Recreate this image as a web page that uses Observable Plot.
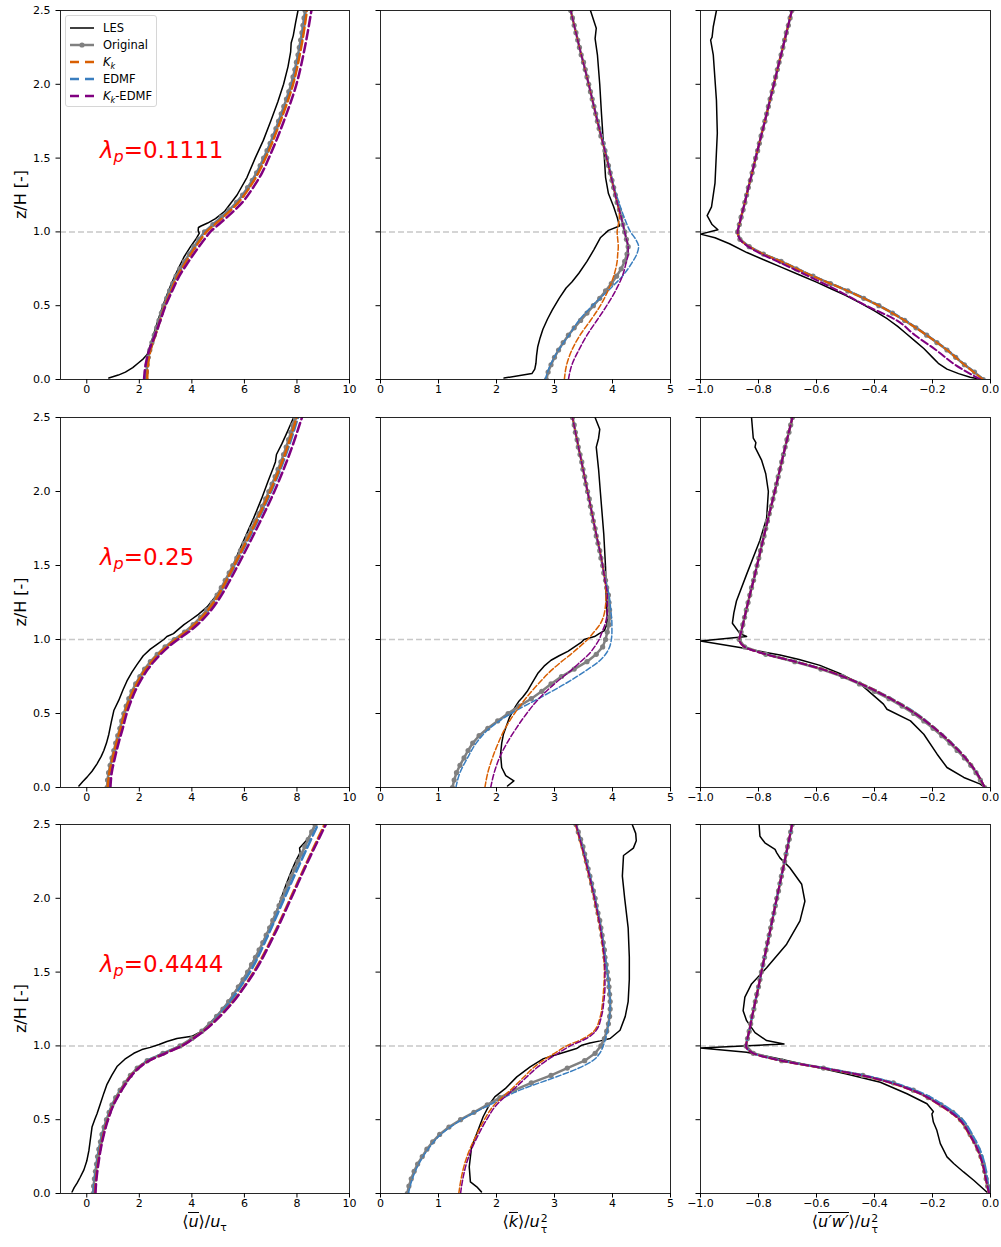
<!DOCTYPE html>
<html><head><meta charset="utf-8">
<script src="https://cdn.jsdelivr.net/npm/d3@7"></script>
<script src="https://cdn.jsdelivr.net/npm/@observablehq/plot@0.6"></script>
<style>
body{margin:0;background:#fff;}
#fig{position:relative;width:1001px;height:1247px;font-family:"DejaVu Sans",sans-serif;color:#000;overflow:hidden;}
#fig svg{position:absolute;overflow:visible;}
.xl{position:absolute;top:1212px;width:240px;text-align:center;font-size:16px;line-height:20px;white-space:nowrap;}
.ov{display:inline-block;border-top:1.3px solid #000;line-height:0.95;padding-top:1px;}
.ss{display:inline-flex;flex-direction:column;vertical-align:0.42em;font-size:0.68em;line-height:1.0;margin-left:1px;}
#legend{position:absolute;left:65px;top:15px;width:92px;height:92px;box-sizing:border-box;border:1px solid #d6d6d6;border-radius:3px;background:rgba(255,255,255,0.85);font-size:11.5px;}
.lg{position:absolute;left:0;height:16px;width:92px;}
.lg svg{position:absolute!important;left:3px;top:3px;}
.lg span{position:absolute;left:37px;top:0;line-height:16px;white-space:nowrap;}
</style></head><body><div id="fig"></div>
<script>
// ---------------- data ----------------
const zFine = [0,0.05,0.1,0.15,0.2,0.25,0.3,0.35,0.4,0.45,0.5,0.55,0.6,0.65,0.7,0.75,0.8,0.85,0.9,0.95,1,1.05,1.1,1.15,1.2,1.25,1.3,1.35,1.4,1.45,1.5,1.55,1.6,1.65,1.7,1.75,1.8,1.85,1.9,1.95,2,2.05,2.1,2.15,2.2,2.25,2.3,2.35,2.4,2.45,2.5];
const zCoarse = [0,0.1,0.2,0.3,0.4,0.5,0.6,0.7,0.8,0.85,0.9,0.95,1,1.05,1.1,1.2,1.3,1.4,1.5,1.75,2,2.25,2.5];
const lambdas = ["0.1111","0.25","0.4444"];
const seriesNames = ["LES","Original","K_k","EDMF","K_k-EDMF"];
const xTicksU = [0,2,4,6,8,10];
const xTicksK = [0,1,2,3,4,5];
const xTicksS = [-1,-0.8,-0.6,-0.4,-0.2,0];
const yTicks = [0,0.5,1,1.5,2,2.5];

// lambda_p = 0.1111
const lesU_A = [[0.84,0.01],[1.2,0.03],[1.47,0.05],[1.75,0.08],[1.95,0.11],[2.15,0.14],[2.3,0.17],[2.45,0.25],[2.62,0.35],[2.80,0.45],[3.0,0.55],[3.22,0.65],[3.48,0.75],[3.7,0.83],[3.95,0.9],[4.15,0.95],[4.28,0.99],[4.24,1.01],[4.25,1.03],[4.35,1.04],[4.6,1.06],[4.9,1.09],[5.25,1.14],[5.72,1.25],[6.1,1.37],[6.41,1.5],[6.72,1.62],[7.0,1.75],[7.27,1.88],[7.49,2.0],[7.66,2.12],[7.76,2.22],[7.78,2.28],[7.86,2.33],[7.95,2.42],[8.04,2.5]];
const origU_A = [2.26,2.27,2.30,2.34,2.40,2.48,2.57,2.66,2.75,2.84,2.93,3.04,3.15,3.27,3.40,3.54,3.72,3.90,4.08,4.27,4.48,4.80,5.12,5.42,5.70,5.93,6.12,6.30,6.46,6.60,6.73,6.86,6.98,7.09,7.20,7.30,7.40,7.50,7.60,7.69,7.78,7.85,7.92,7.98,8.04,8.09,8.14,8.19,8.23,8.27,8.31];
const kkU_A = [2.30,2.33,2.43,2.61,2.79,2.97,3.20,3.45,3.78,3.96,4.14,4.34,4.55,4.87,5.19,5.77,6.19,6.53,6.80,7.37,7.85,8.16,8.38];
const edmfU_A = [2.28,2.32,2.42,2.60,2.78,2.96,3.18,3.43,3.76,3.94,4.12,4.31,4.52,4.84,5.16,5.74,6.16,6.50,6.77,7.34,7.82,8.13,8.35];
const kkedmfU_A = [2.18,2.24,2.38,2.60,2.80,3.00,3.25,3.52,3.88,4.07,4.27,4.48,4.70,5.02,5.34,5.92,6.33,6.67,6.93,7.50,7.98,8.30,8.55];

const lesK_A = [[2.13,0.01],[2.61,0.04],[2.66,0.07],[2.68,0.11],[2.69,0.16],[2.71,0.22],[2.75,0.28],[2.80,0.34],[2.88,0.41],[2.96,0.47],[3.08,0.55],[3.2,0.62],[3.3,0.66],[3.42,0.72],[3.56,0.8],[3.68,0.88],[3.79,0.96],[3.93,1.01],[4.12,1.04],[4.08,1.1],[4.02,1.17],[3.93,1.26],[3.88,1.37],[3.86,1.5],[3.84,1.62],[3.81,1.8],[3.78,2.0],[3.74,2.2],[3.70,2.31],[3.72,2.38],[3.62,2.5]];
const origK_A = [2.86,2.89,2.94,3.00,3.07,3.15,3.24,3.34,3.45,3.56,3.67,3.78,3.88,3.98,4.07,4.15,4.21,4.25,4.27,4.24,4.21,4.18,4.15,4.12,4.08,4.05,4.02,3.99,3.96,3.93,3.90,3.87,3.84,3.80,3.77,3.74,3.71,3.68,3.65,3.62,3.59,3.56,3.53,3.50,3.46,3.43,3.40,3.37,3.34,3.31,3.28];
const kkK_A = [3.17,3.21,3.30,3.44,3.62,3.79,3.92,4.02,4.08,4.09,4.10,4.09,4.08,4.10,4.12,4.08,4.02,3.96,3.90,3.74,3.59,3.43,3.28];
const edmfK_A = [2.84,2.93,3.07,3.25,3.42,3.65,3.92,4.17,4.35,4.42,4.45,4.40,4.31,4.25,4.20,4.11,4.03,3.97,3.91,3.75,3.59,3.43,3.28];
const kkedmfK_A = [3.24,3.30,3.42,3.56,3.73,3.90,4.05,4.17,4.24,4.27,4.27,4.24,4.21,4.18,4.15,4.08,4.02,3.96,3.90,3.74,3.59,3.43,3.28];

const lesS_A = [[-0.03,0.0],[-0.07,0.015],[-0.11,0.04],[-0.15,0.07],[-0.18,0.11],[-0.20,0.15],[-0.23,0.21],[-0.26,0.26],[-0.29,0.31],[-0.32,0.36],[-0.355,0.41],[-0.40,0.465],[-0.45,0.52],[-0.50,0.57],[-0.55,0.615],[-0.60,0.66],[-0.66,0.71],[-0.72,0.76],[-0.78,0.81],[-0.84,0.86],[-0.90,0.92],[-0.95,0.96],[-1.0,0.985],[-0.94,1.015],[-0.96,1.05],[-0.977,1.11],[-0.962,1.17],[-0.95,1.33],[-0.942,1.67],[-0.945,1.89],[-0.956,2.2],[-0.965,2.3],[-0.96,2.32],[-0.956,2.39],[-0.945,2.5]];
const origS_A = [-0.025,-0.055,-0.09,-0.12,-0.15,-0.185,-0.22,-0.257,-0.296,-0.338,-0.385,-0.437,-0.492,-0.552,-0.612,-0.67,-0.722,-0.783,-0.832,-0.864,-0.872,-0.866,-0.860,-0.853,-0.847,-0.841,-0.835,-0.828,-0.822,-0.816,-0.810,-0.803,-0.797,-0.791,-0.785,-0.778,-0.772,-0.766,-0.760,-0.753,-0.747,-0.741,-0.735,-0.729,-0.722,-0.716,-0.710,-0.704,-0.697,-0.691,-0.685];
const kkS_A = [-0.025,-0.09,-0.15,-0.22,-0.296,-0.385,-0.492,-0.612,-0.722,-0.783,-0.832,-0.864,-0.872,-0.866,-0.860,-0.847,-0.835,-0.822,-0.810,-0.778,-0.747,-0.716,-0.685];
const edmfS_A = [-0.023,-0.088,-0.148,-0.218,-0.293,-0.382,-0.489,-0.61,-0.72,-0.782,-0.831,-0.864,-0.872,-0.866,-0.860,-0.847,-0.835,-0.822,-0.810,-0.778,-0.747,-0.716,-0.685];
const kkedmfS_A = [-0.035,-0.122,-0.188,-0.26,-0.323,-0.428,-0.524,-0.628,-0.735,-0.79,-0.835,-0.864,-0.872,-0.866,-0.860,-0.847,-0.835,-0.822,-0.810,-0.778,-0.747,-0.716,-0.685];

// lambda_p = 0.25
const lesU_B = [[-0.30,0.01],[-0.15,0.04],[0.01,0.07],[0.2,0.11],[0.39,0.16],[0.55,0.21],[0.65,0.25],[0.75,0.30],[0.84,0.36],[0.93,0.44],[1.03,0.52],[1.22,0.59],[1.38,0.66],[1.53,0.72],[1.72,0.78],[1.91,0.83],[2.15,0.89],[2.42,0.935],[2.7,0.97],[2.93,1.0],[3.05,1.02],[3.3,1.04],[3.43,1.06],[3.7,1.1],[3.94,1.13],[4.25,1.17],[4.58,1.22],[4.9,1.29],[5.21,1.37],[5.5,1.47],[5.75,1.58],[6.05,1.7],[6.35,1.82],[6.65,1.95],[6.9,2.07],[7.1,2.16],[7.18,2.2],[7.22,2.25],[7.42,2.32],[7.65,2.41],[7.87,2.5]];
const origU_B = [0.77,0.79,0.83,0.89,0.96,1.03,1.10,1.18,1.26,1.33,1.41,1.50,1.60,1.72,1.86,2.02,2.20,2.42,2.68,2.98,3.33,3.72,4.05,4.33,4.57,4.78,4.96,5.12,5.27,5.42,5.56,5.71,5.85,5.99,6.13,6.27,6.41,6.55,6.68,6.81,6.93,7.05,7.17,7.28,7.39,7.49,7.59,7.68,7.77,7.85,7.93];
const kkU_B = [0.80,0.86,0.99,1.13,1.29,1.44,1.64,1.90,2.25,2.47,2.73,3.03,3.38,3.77,4.10,4.62,5.01,5.32,5.61,6.32,6.98,7.54,7.99];
const edmfU_B = [0.83,0.89,1.02,1.16,1.32,1.47,1.67,1.93,2.28,2.50,2.76,3.06,3.41,3.80,4.13,4.65,5.04,5.35,5.64,6.36,7.02,7.58,8.04];
const kkedmfU_B = [0.90,0.95,1.07,1.21,1.37,1.52,1.72,1.98,2.33,2.55,2.81,3.11,3.47,3.87,4.21,4.74,5.13,5.45,5.75,6.47,7.14,7.71,8.19];

const lesK_B = [[2.19,0.01],[2.30,0.045],[2.16,0.08],[2.09,0.135],[2.07,0.225],[2.09,0.3],[2.12,0.36],[2.22,0.47],[2.33,0.55],[2.39,0.585],[2.45,0.61],[2.53,0.65],[2.62,0.71],[2.71,0.77],[2.82,0.82],[2.94,0.86],[3.08,0.89],[3.23,0.92],[3.46,0.98],[3.51,1.0],[3.69,1.02],[3.77,1.04],[3.86,1.06],[3.90,1.1],[3.91,1.15],[3.89,1.3],[3.88,1.49],[3.85,1.71],[3.79,2.0],[3.76,2.15],[3.72,2.3],[3.76,2.36],[3.78,2.42],[3.70,2.5]];
const origK_B = [1.24,1.27,1.31,1.37,1.44,1.51,1.59,1.70,1.85,2.02,2.20,2.39,2.60,2.78,2.94,3.12,3.34,3.56,3.72,3.83,3.88,3.91,3.94,3.95,3.95,3.94,3.93,3.90,3.88,3.85,3.83,3.80,3.78,3.75,3.72,3.70,3.67,3.65,3.62,3.60,3.57,3.54,3.52,3.49,3.47,3.44,3.41,3.39,3.36,3.34,3.31];
const kkK_B = [1.80,1.85,1.93,2.03,2.15,2.31,2.50,2.72,2.97,3.12,3.28,3.43,3.57,3.68,3.78,3.87,3.89,3.87,3.83,3.70,3.57,3.44,3.31];
const edmfK_B = [1.30,1.37,1.50,1.65,1.88,2.25,2.72,3.18,3.58,3.76,3.88,3.95,3.98,3.99,3.99,3.97,3.94,3.88,3.83,3.70,3.57,3.44,3.31];
const kkedmfK_B = [1.90,1.96,2.05,2.18,2.34,2.52,2.73,3.00,3.31,3.45,3.59,3.69,3.77,3.82,3.87,3.91,3.91,3.87,3.83,3.70,3.57,3.44,3.31];

const lesS_B = [[-0.02,0.0],[-0.035,0.023],[-0.092,0.068],[-0.15,0.135],[-0.184,0.225],[-0.23,0.36],[-0.276,0.45],[-0.357,0.529],[-0.369,0.563],[-0.449,0.70],[-0.52,0.77],[-0.588,0.825],[-0.66,0.865],[-0.726,0.895],[-0.80,0.922],[-0.864,0.946],[-1.0,0.99],[-0.841,1.02],[-0.864,1.04],[-0.89,1.11],[-0.885,1.18],[-0.876,1.26],[-0.841,1.44],[-0.795,1.67],[-0.772,1.82],[-0.766,2.0],[-0.775,2.12],[-0.789,2.21],[-0.812,2.30],[-0.809,2.33],[-0.818,2.36],[-0.824,2.5]];
const origS_B = [-0.02,-0.035,-0.05,-0.068,-0.09,-0.115,-0.14,-0.168,-0.198,-0.23,-0.265,-0.305,-0.35,-0.40,-0.452,-0.51,-0.585,-0.675,-0.775,-0.848,-0.866,-0.860,-0.854,-0.848,-0.842,-0.836,-0.830,-0.824,-0.817,-0.811,-0.805,-0.799,-0.793,-0.787,-0.781,-0.775,-0.769,-0.763,-0.756,-0.750,-0.744,-0.738,-0.732,-0.726,-0.720,-0.714,-0.708,-0.702,-0.695,-0.689,-0.683];
const kkS_B = [-0.02,-0.048,-0.086,-0.135,-0.192,-0.258,-0.343,-0.446,-0.58,-0.672,-0.774,-0.848,-0.866,-0.860,-0.854,-0.842,-0.830,-0.817,-0.805,-0.775,-0.744,-0.714,-0.683];
const edmfS_B = [-0.02,-0.047,-0.085,-0.133,-0.19,-0.255,-0.34,-0.443,-0.578,-0.67,-0.772,-0.847,-0.866,-0.860,-0.854,-0.842,-0.830,-0.817,-0.805,-0.775,-0.744,-0.714,-0.683];
const kkedmfS_B = [-0.02,-0.048,-0.087,-0.136,-0.193,-0.26,-0.345,-0.448,-0.582,-0.673,-0.774,-0.848,-0.866,-0.860,-0.854,-0.842,-0.830,-0.817,-0.805,-0.775,-0.744,-0.714,-0.683];

// lambda_p = 0.4444
const lesU_C = [[-0.56,0.01],[-0.48,0.04],[-0.37,0.07],[-0.25,0.11],[-0.11,0.16],[0.0,0.22],[0.08,0.29],[0.14,0.37],[0.2,0.45],[0.3,0.5],[0.39,0.54],[0.52,0.61],[0.65,0.68],[0.77,0.74],[0.95,0.80],[1.15,0.86],[1.45,0.91],[1.79,0.95],[2.1,0.975],[2.42,0.99],[2.75,1.01],[3.05,1.03],[3.43,1.05],[4.0,1.065],[4.38,1.1],[4.94,1.2],[5.4,1.3],[5.77,1.4],[6.12,1.5],[6.42,1.6],[6.7,1.7],[6.96,1.8],[7.2,1.9],[7.4,2.0],[7.6,2.1],[7.8,2.19],[7.95,2.25],[8.12,2.31],[8.10,2.34],[8.35,2.39],[8.55,2.44],[8.7,2.5]];
const origU_C = [0.24,0.26,0.29,0.33,0.37,0.41,0.46,0.52,0.58,0.66,0.75,0.85,0.96,1.10,1.27,1.45,1.66,1.92,2.30,2.90,3.55,4.00,4.38,4.68,4.94,5.18,5.40,5.59,5.77,5.95,6.12,6.27,6.42,6.56,6.70,6.83,6.96,7.08,7.20,7.32,7.44,7.56,7.68,7.80,7.92,8.04,8.17,8.30,8.43,8.56,8.69];
const kkU_C = [0.31,0.35,0.42,0.51,0.63,0.79,1.00,1.31,1.69,1.96,2.36,2.98,3.60,4.04,4.43,5.05,5.56,5.98,6.35,7.10,7.75,8.39,9.05];
const edmfU_C = [0.26,0.31,0.39,0.48,0.60,0.77,0.98,1.29,1.68,1.94,2.32,2.93,3.58,4.03,4.42,4.99,5.46,5.85,6.21,6.90,7.52,8.15,8.80];
const kkedmfU_C = [0.33,0.37,0.44,0.53,0.65,0.81,1.02,1.33,1.71,1.98,2.38,3.00,3.62,4.06,4.45,5.07,5.58,6.00,6.38,7.13,7.78,8.42,9.10];

const lesK_C = [[1.74,0.011],[1.66,0.045],[1.55,0.079],[1.53,0.18],[1.57,0.316],[1.66,0.406],[1.77,0.52],[1.89,0.61],[1.97,0.655],[2.15,0.71],[2.35,0.79],[2.58,0.858],[2.81,0.914],[3.10,0.948],[3.38,0.982],[3.47,1.005],[3.61,1.02],[3.79,1.034],[3.96,1.05],[4.13,1.106],[4.22,1.2],[4.27,1.3],[4.29,1.45],[4.29,1.6],[4.27,1.8],[4.21,2.0],[4.17,2.15],[4.19,2.29],[4.36,2.34],[4.41,2.39],[4.40,2.44],[4.34,2.5]];
const origK_C = [0.46,0.49,0.53,0.58,0.64,0.72,0.80,0.90,1.02,1.18,1.38,1.61,1.84,2.06,2.31,2.60,2.94,3.22,3.52,3.70,3.80,3.86,3.90,3.93,3.95,3.96,3.96,3.95,3.94,3.93,3.91,3.89,3.87,3.86,3.84,3.82,3.80,3.78,3.75,3.72,3.70,3.67,3.64,3.61,3.58,3.55,3.52,3.49,3.45,3.41,3.37];
const kkK_C = [1.35,1.39,1.45,1.54,1.66,1.79,1.96,2.24,2.50,2.63,2.80,3.00,3.21,3.50,3.68,3.79,3.83,3.85,3.86,3.80,3.68,3.53,3.36];
const edmfK_C = [0.48,0.55,0.66,0.82,1.04,1.40,1.88,2.40,3.10,3.42,3.66,3.78,3.84,3.88,3.91,3.95,3.96,3.94,3.91,3.82,3.70,3.55,3.37];
const kkedmfK_C = [1.38,1.42,1.48,1.57,1.69,1.83,2.00,2.28,2.55,2.69,2.86,3.06,3.27,3.55,3.71,3.81,3.85,3.87,3.87,3.81,3.69,3.54,3.37];

const lesS_C = [[-0.007,0.0],[-0.058,0.09],[-0.093,0.146],[-0.127,0.203],[-0.15,0.248],[-0.173,0.338],[-0.185,0.428],[-0.197,0.484],[-0.202,0.54],[-0.197,0.555],[-0.219,0.608],[-0.288,0.676],[-0.38,0.754],[-0.496,0.81],[-0.611,0.86],[-0.726,0.912],[-0.841,0.957],[-1.0,0.986],[-0.712,1.013],[-0.772,1.036],[-0.812,1.09],[-0.841,1.171],[-0.853,1.238],[-0.847,1.33],[-0.824,1.42],[-0.772,1.53],[-0.703,1.689],[-0.657,1.847],[-0.64,1.98],[-0.651,2.095],[-0.692,2.207],[-0.726,2.274],[-0.737,2.308],[-0.743,2.331],[-0.778,2.376],[-0.795,2.42],[-0.798,2.5]];
const origS_C = [-0.005,-0.01,-0.015,-0.02,-0.025,-0.033,-0.043,-0.055,-0.07,-0.085,-0.103,-0.13,-0.17,-0.215,-0.266,-0.335,-0.44,-0.576,-0.72,-0.818,-0.843,-0.838,-0.832,-0.827,-0.822,-0.816,-0.811,-0.806,-0.800,-0.795,-0.790,-0.785,-0.779,-0.774,-0.769,-0.763,-0.758,-0.753,-0.747,-0.742,-0.737,-0.731,-0.726,-0.721,-0.716,-0.710,-0.705,-0.700,-0.694,-0.689,-0.684];
const kkS_C = [-0.005,-0.017,-0.028,-0.046,-0.074,-0.108,-0.176,-0.272,-0.445,-0.58,-0.722,-0.818,-0.843,-0.838,-0.832,-0.822,-0.811,-0.800,-0.790,-0.763,-0.737,-0.710,-0.684];
const edmfS_C = [-0.003,-0.011,-0.02,-0.037,-0.063,-0.096,-0.163,-0.26,-0.435,-0.572,-0.718,-0.817,-0.843,-0.838,-0.832,-0.822,-0.811,-0.800,-0.790,-0.763,-0.737,-0.710,-0.684];
const kkedmfS_C = [-0.005,-0.016,-0.027,-0.045,-0.072,-0.106,-0.174,-0.27,-0.443,-0.578,-0.721,-0.818,-0.843,-0.838,-0.832,-0.822,-0.811,-0.800,-0.790,-0.763,-0.737,-0.710,-0.684];

// ---------------- assembly ----------------
const grid = [
  [{les:lesU_A,orig:origU_A,kk:kkU_A,edmf:edmfU_A,kkedmf:kkedmfU_A},{les:lesK_A,orig:origK_A,kk:kkK_A,edmf:edmfK_A,kkedmf:kkedmfK_A},{les:lesS_A,orig:origS_A,kk:kkS_A,edmf:edmfS_A,kkedmf:kkedmfS_A}],
  [{les:lesU_B,orig:origU_B,kk:kkU_B,edmf:edmfU_B,kkedmf:kkedmfU_B},{les:lesK_B,orig:origK_B,kk:kkK_B,edmf:edmfK_B,kkedmf:kkedmfK_B},{les:lesS_B,orig:origS_B,kk:kkS_B,edmf:edmfS_B,kkedmf:kkedmfS_B}],
  [{les:lesU_C,orig:origU_C,kk:kkU_C,edmf:edmfU_C,kkedmf:kkedmfU_C},{les:lesK_C,orig:origK_C,kk:kkK_C,edmf:edmfK_C,kkedmf:kkedmfK_C},{les:lesS_C,orig:origS_C,kk:kkS_C,edmf:edmfS_C,kkedmf:kkedmfS_C}]
];
const C_LES = "#000000", C_ORIG = "#808080", C_KK = "#d95f02", C_EDMF = "#3a7ebf", C_KKEDMF = "#800080";
const fmtS = d => (d < 0 ? "\u2212" : "") + Math.abs(d).toFixed(1);
const COLS = [
  {left:60, right:349, domain:[-1,10], ticks:xTicksU, fmt:d=>String(d), dash:"9.25,4", dw:2.5},
  {left:380, right:670, domain:[0,5], ticks:xTicksK, fmt:d=>String(d), dash:"5.5,2.4", dw:1.5},
  {left:700, right:990, domain:[-1,0], ticks:xTicksS, fmt:fmtS, dash:"7.4,3.2", dw:2}
];
const ROWS = [{top:10,bottom:379},{top:417,bottom:787},{top:824,bottom:1193}];
const fig = document.getElementById("fig");

const toFine = a => zFine.map((z,i)=>({x:a[i], z})).filter(d=>d.x!=null);
const toCoarse = a => zCoarse.map((z,i)=>({x:a[i], z})).filter(d=>d.x!=null);
const toPairs = a => a.map(d=>({x:d[0], z:d[1]}));

for (let r = 0; r < 3; r++) {
  for (let c = 0; c < 3; c++) {
    const col = COLS[c], row = ROWS[r], d = grid[r][c];
    const mL = c === 0 ? 60 : 25, mR = 15, mT = 8, mB = 22;
    const W = (col.right - col.left) + mL + mR;
    const H = (row.bottom - row.top) + mT + mB;
    const orig = toFine(d.orig);
    const line = (data, stroke, extra) => Plot.line(data, Object.assign({x:"x", y:"z", stroke, clip:true}, extra));
    const p = Plot.plot({
      width: W, height: H, marginLeft: mL, marginRight: mR, marginTop: mT, marginBottom: mB,
      style: {background:"transparent", overflow:"visible", fontFamily:"'DejaVu Sans', sans-serif", fontSize:"11px", color:"#000"},
      x: {domain: col.domain},
      y: {domain: [0, 2.5]},
      marks: [
        Plot.ruleY([1], {stroke:"#c8c8c8", strokeWidth:1.5, strokeDasharray:"6,3"}),
        line(toPairs(d.les), C_LES, {strokeWidth:1.5}),
        line(orig, C_ORIG, {strokeWidth:2.5}),
        Plot.dot(orig, {x:"x", y:"z", r:2.6, fill:C_ORIG, clip:true}),
        line(toCoarse(d.edmf), C_EDMF, {strokeWidth:col.dw, strokeDasharray:col.dash, curve:"monotone-y"}),
        line(toCoarse(d.kk), C_KK, {strokeWidth:col.dw, strokeDasharray:col.dash, curve:"monotone-y"}),
        line(toCoarse(d.kkedmf), C_KKEDMF, {strokeWidth:col.dw, strokeDasharray:col.dash, curve:"monotone-y"}),
        Plot.frame({stroke:"#111", strokeWidth:0.9}),
        Plot.axisX({ticks: col.ticks, tickFormat: col.fmt, tickSize:4.5, tickPadding:1.5, label:null}),
        Plot.axisY({ticks: yTicks, tickFormat: c === 0 ? (v=>v.toFixed(1)) : (()=>""), tickSize:4.5, tickPadding:5.5, label:null})
      ]
    });
    p.style.left = (col.left - mL) + "px";
    p.style.top = (row.top - mT) + "px";
    fig.appendChild(p);
    const svg = d3.select(p);
    if (c === 0) {
      svg.append("text")
        .attr("transform", `translate(20,${mT + (row.bottom - row.top) / 2}) rotate(-90)`)
        .attr("text-anchor", "middle").attr("dy", "0.35em")
        .attr("font-size", 16).attr("fill", "#000").text("z/H [-]");
      const sx = p.scale("x").apply(0.52), sy = p.scale("y").apply(1.5);
      const t = svg.append("text").attr("x", sx).attr("y", sy).attr("text-anchor", "start")
        .attr("fill", "#ff0000").attr("font-size", 23);
      t.append("tspan").attr("font-style", "italic").text("λ");
      t.append("tspan").attr("font-style", "italic").attr("font-size", 16).attr("dy", 4).text("p");
      t.append("tspan").attr("dy", -4).text("=" + lambdas[r]);
    }
  }
}

// x-axis labels (bottom row)
const xlabels = [
  `⟨<span class="ov"><i>u</i></span>⟩/<i>u</i><sub style="font-size:0.68em">τ</sub>`,
  `⟨<span class="ov"><i>k</i></span>⟩/<i>u</i><span class="ss"><span>2</span><span>τ</span></span>`,
  `⟨<span class="ov"><i>u′w′</i></span>⟩/<i>u</i><span class="ss"><span>2</span><span>τ</span></span>`
];
COLS.forEach((col, i) => {
  const el = document.createElement("div");
  el.className = "xl";
  el.style.left = ((col.left + col.right) / 2 - 120) + "px";
  el.innerHTML = xlabels[i];
  fig.appendChild(el);
});

// legend
const leg = document.createElement("div");
leg.id = "legend";
fig.appendChild(leg);
const legItems = [
  {html:"LES", stroke:C_LES, w:1.5, dash:null, dot:false},
  {html:"Original", stroke:C_ORIG, w:2.5, dash:null, dot:true},
  {html:"<i>K<sub style='font-size:0.7em'>k</sub></i>", stroke:C_KK, w:2.5, dash:"9,6", dot:false},
  {html:"EDMF", stroke:C_EDMF, w:2.5, dash:"9,6", dot:false},
  {html:"<i>K<sub style='font-size:0.7em'>k</sub></i>-EDMF", stroke:C_KKEDMF, w:2.5, dash:"9,6", dot:false}
];
legItems.forEach((it, i) => {
  const row = document.createElement("div");
  row.className = "lg";
  row.style.top = (3.5 + 17.2 * i) + "px";
  const s = d3.create("svg").attr("width", 26).attr("height", 10);
  s.append("line").attr("x1", 1).attr("x2", 25).attr("y1", 5).attr("y2", 5)
    .attr("stroke", it.stroke).attr("stroke-width", it.w).attr("stroke-dasharray", it.dash);
  if (it.dot) s.append("circle").attr("cx", 13).attr("cy", 5).attr("r", 2.6).attr("fill", it.stroke);
  row.appendChild(s.node());
  const sp = document.createElement("span");
  sp.innerHTML = it.html;
  row.appendChild(sp);
  leg.appendChild(row);
});
</script></body></html>
